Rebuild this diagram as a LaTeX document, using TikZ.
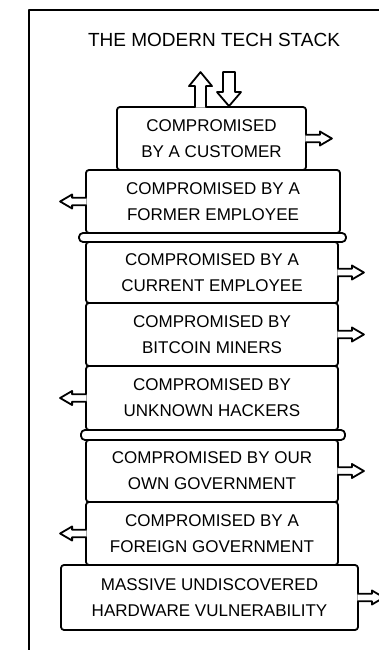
\documentclass[tikz,border=0pt]{standalone}
\usepackage{fontspec}
\setmainfont{Liberation Sans}
\usetikzlibrary{arrows}

% hollow block arrow along +x: stem length, stem half width, head length, head half width
\newcommand{\blockarrow}[4]{%
	\filldraw[arrowline] (-1.5,#2) -- (#1,#2) -- (#1,#4) -- ({#1+#3},0) -- (#1,-#4) -- (#1,-#2) -- (-1.5,-#2);}

\begin{document}
\begin{tikzpicture}[x=1pt,y=1pt,line width=1.8pt,line join=round]
						\tikzstyle{layer}=[draw=black,rounded corners=3pt,minimum height=63pt,inner sep=0pt,align=center,font=\fontsize{17}{26}\selectfont]
						\tikzstyle{slab}=[draw=black,rounded corners=4pt,minimum height=9pt,inner sep=0pt]
						\tikzstyle{arrowline}=[draw=black,fill=white,line width=1.8pt]
						\useasboundingbox (0,0) rectangle (379,650);
						\draw[line width=2.4pt] (29,0) -- (29,640) -- (379,640);
						\node[font=\fontsize{19}{23}\selectfont] (title) at (214,610) {THE MODERN TECH STACK};
						\node[layer,minimum width=189pt] (cust) at (211.5,511.5) {COMPROMISED\\BY A CUSTOMER};
						\node[layer,minimum width=254pt] (former) at (213,448.5) {COMPROMISED BY A\\FORMER EMPLOYEE};
						\node[slab,minimum width=267pt] (slab1) at (212.5,412.5) {};
						\node[layer,minimum width=252pt,minimum height=61pt] (current) at (212,377.5) {COMPROMISED BY A\\CURRENT EMPLOYEE};
						\node[layer,minimum width=252pt] (miners) at (212,315.5) {COMPROMISED BY\\BITCOIN MINERS};
						\node[layer,minimum width=252pt,minimum height=64pt] (hackers) at (212,252) {COMPROMISED BY\\UNKNOWN HACKERS};
						\node[slab,minimum width=264pt,minimum height=10pt] (slab2) at (213,215) {};
						\node[layer,minimum width=252pt,minimum height=62pt] (owngov) at (212,179) {COMPROMISED BY OUR\\OWN GOVERNMENT};
						\node[layer,minimum width=252pt] (foreign) at (212,116.5) {COMPROMISED BY A\\FOREIGN GOVERNMENT};
						\node[layer,minimum width=297pt,minimum height=65pt] (hardware) at (209.5,52.5) {MASSIVE UNDISCOVERED\\HARDWARE VULNERABILITY};
						% arrows out of the sides
						\foreach \n/\a/\d in {cust/east/1,former/west/-1,current/east/1,miners/east/1,hackers/west/-1,owngov/east/1,foreign/west/-1,hardware/east/1}
						{
							\begin{scope}[shift={(\n.\a)},xscale=\d]
								\blockarrow{13}{3.75}{12}{7}
							\end{scope}
						}
						% in and out at the top
						\begin{scope}[shift={([xshift=-11pt]cust.north)},rotate=90]
							\blockarrow{20}{5.5}{14}{11.5}
						\end{scope}
						\begin{scope}[shift={([xshift=17.5pt]cust.north)}]
							\draw[arrowline] (-6,34) -- (-6,14) -- (-12,14) -- (0,0) -- (12,14) -- (6,14) -- (6,34) -- cycle;
						\end{scope}
						\end{tikzpicture}
\end{document}
